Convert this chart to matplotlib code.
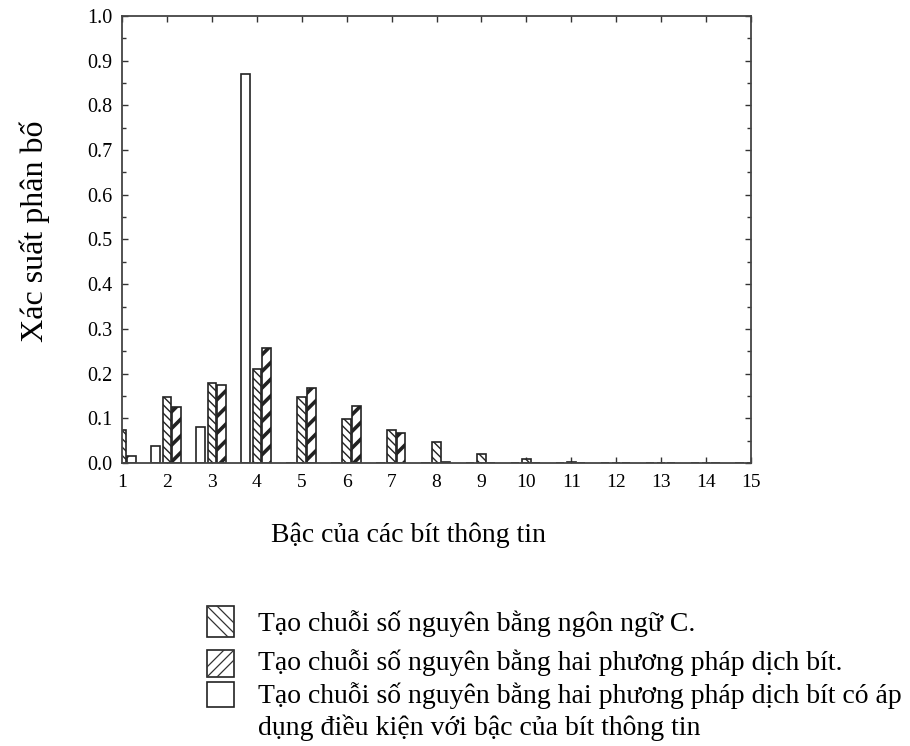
import numpy as np
import matplotlib
matplotlib.use('Agg')
import matplotlib.pyplot as plt
from matplotlib.patches import Rectangle
from matplotlib.lines import Line2D
from matplotlib.ticker import MultipleLocator, FormatStrFormatter

# bac cua bit thong tin
levels = np.arange(1, 16)
# tao chuoi so nguyen bang ngon ngu C
p_lang_c = [0.074, 0.147, 0.180, 0.211, 0.147, 0.099, 0.074, 0.046, 0.021, 0.010, 0.003, 0, 0, 0, 0]
# hai phuong phap dich bit
p_shift = [0.016, 0.125, 0.174, 0.257, 0.168, 0.128, 0.066, 0.003, 0, 0, 0, 0, 0, 0, 0]
# dich bit co dieu kien
p_shift_cond = [0.0, 0.038, 0.080, 0.870, 0, 0, 0, 0, 0, 0, 0, 0, 0, 0, 0]

labels = ['Tạo chuỗi số nguyên bằng ngôn ngữ C.',
          'Tạo chuỗi số nguyên bằng hai phương pháp dịch bít.',
          'Tạo chuỗi số nguyên bằng hai phương pháp dịch bít có áp\ndụng điều kiện với bậc của bít thông tin']

plt.rcParams['font.family'] = ['Liberation Serif', 'DejaVu Serif']

W, H = 910, 746
fig = plt.figure(figsize=(W / 100, H / 100), dpi=100)
ax = fig.add_axes([122 / W, 1 - 463 / H, (751 - 122) / W, (463 - 16) / H])

bw = 0.19
series = [(p_shift_cond, -0.25, None, 1.0),
          (p_lang_c, 0.0, '\\\\\\\\', 1.0),
          (p_shift, 0.215, '//', 2.6)]
for vals, off, hatch, hlw in series:
    with plt.rc_context({'hatch.linewidth': hlw}):
        bars = ax.bar(levels + off, vals, bw, color='white', edgecolor='#222222',
                      linewidth=1.2, hatch=hatch, zorder=2)
    for b in bars:
        if hasattr(b, 'set_hatch_linewidth'):
            b.set_hatch_linewidth(hlw)

ax.set_xlim(1, 15)
ax.set_ylim(0, 1.0)
ax.set_xticks(levels)
ax.yaxis.set_major_locator(MultipleLocator(0.1))
ax.yaxis.set_minor_locator(MultipleLocator(0.05))
ax.yaxis.set_major_formatter(FormatStrFormatter('%.1f'))
ax.tick_params(which='both', direction='in', top=True, right=True, width=1, color='#333333')
ax.tick_params(which='major', length=4)
ax.tick_params(which='minor', length=3)
ax.tick_params(axis='x', pad=8, labelsize=14)
ax.tick_params(axis='y', pad=7, labelsize=14.5)
for s in ax.spines.values():
    s.set_linewidth(1.3)
    s.set_color('#444444')

ax.set_ylabel('Xác suất phân bố', fontsize=23, va='center')
ax.yaxis.set_label_coords(-0.138, 0.518)
fig.text(408.5 / W, 1 - 542 / H, 'Bậc của các bít thông tin', fontsize=20,
         ha='center', va='baseline')

# chu thich (ve tay cac o co gach cheo)
boxes = [(606, 637), (650, 677), (682, 707)]
baselines = [631, 670, 703]
directions = ['back', 'fwd', None]
x0, x1 = 207, 234
for (y0, y1), base, d, lab in zip(boxes, baselines, directions, labels):
    r = Rectangle((x0 / W, 1 - y1 / H), (x1 - x0) / W, (y1 - y0) / H, transform=fig.transFigure,
                  facecolor='white', edgecolor='#222222', linewidth=1.2)
    fig.add_artist(r)
    if d is not None:
        h = y1 - y0
        for c in (-10, 0, 10):
            if d == 'back':
                xs = np.array([x0 + c, x0 + c + h])
            else:
                xs = np.array([x0 + c + h, x0 + c])
            ys = np.array([y0, y1])
            ln = Line2D(xs / W, 1 - ys / H, transform=fig.transFigure, color='#333333', lw=0.9)
            ln.set_clip_path(r)
            fig.add_artist(ln)
    for k, line in enumerate(lab.split('\n')):
        fig.text(258 / W, 1 - (base + 32 * k) / H, line, fontsize=20,
                 ha='left', va='baseline')

fig.savefig('out.png', dpi=100)
